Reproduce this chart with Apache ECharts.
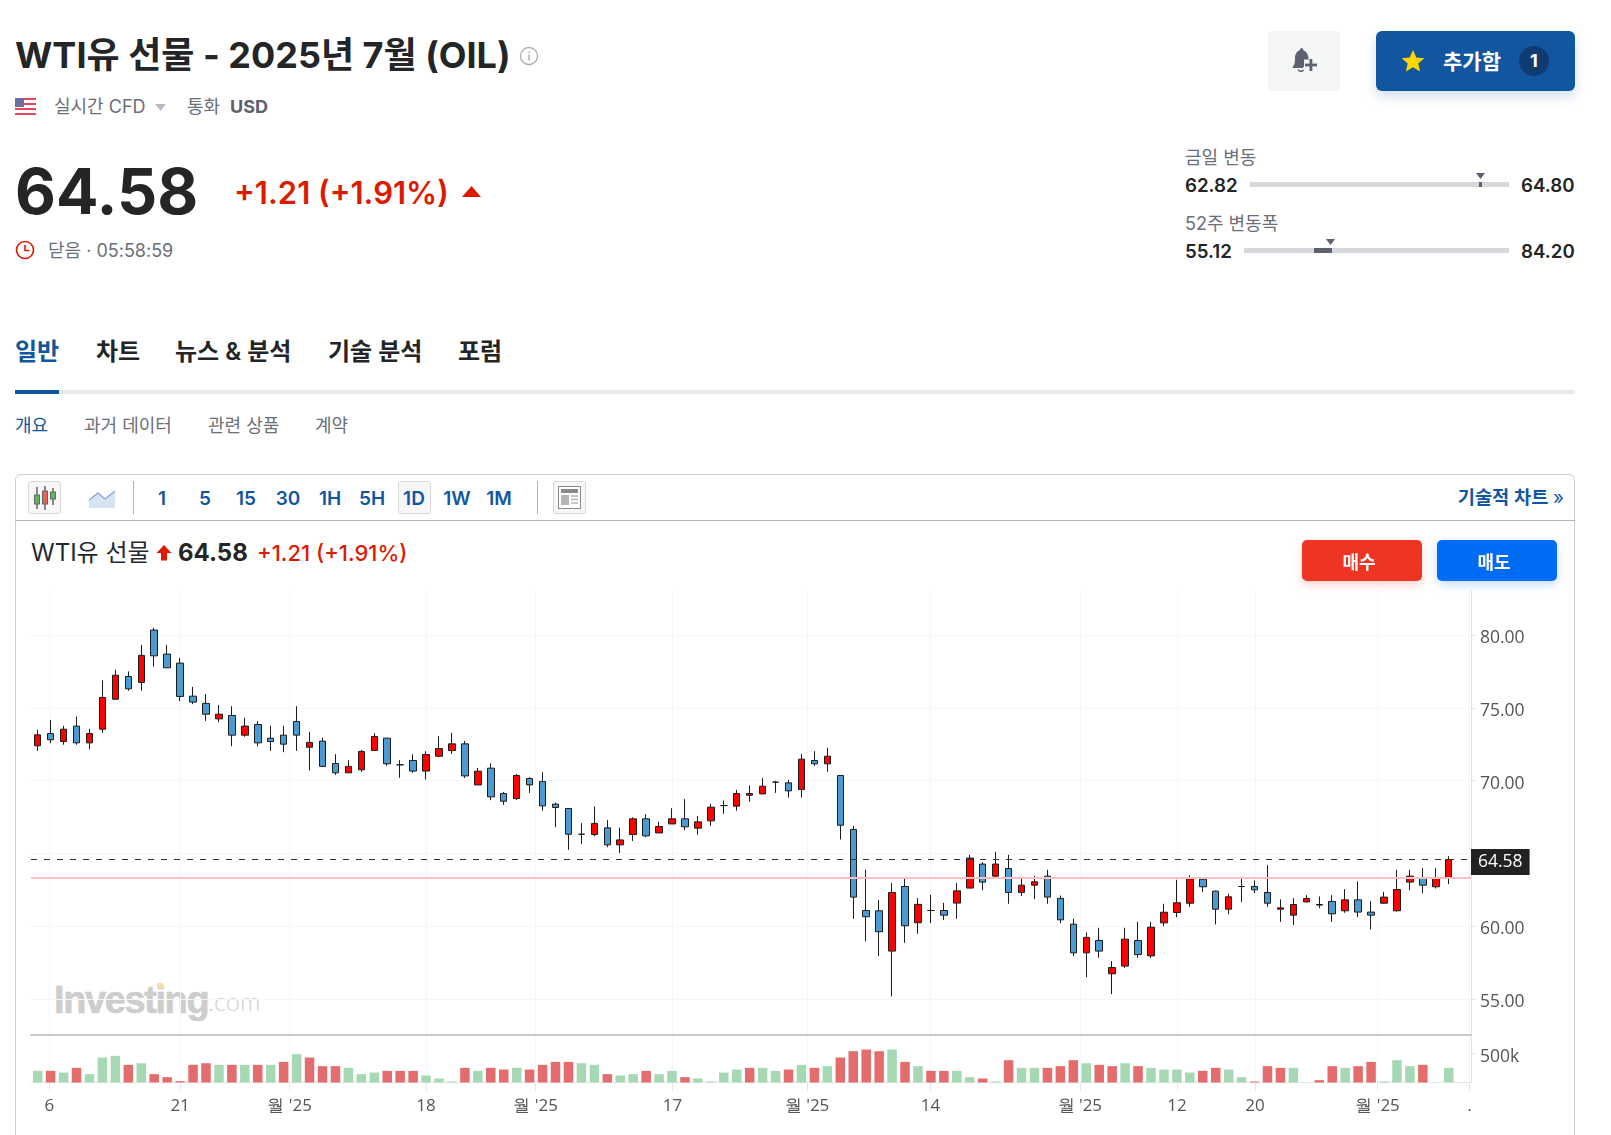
<!DOCTYPE html>
<html lang="ko">
<head>
<meta charset="utf-8">
<title>WTI유 선물</title>
<script src="https://cdn.jsdelivr.net/npm/echarts@6/dist/echarts.min.js"></script>
<style>
html,body{margin:0;padding:0;background:#fff;}
body{width:1611px;height:1135px;overflow:hidden;position:relative;font-family:Inter,"Noto Sans CJK KR",sans-serif;color:#232526;}
.t{position:absolute;white-space:nowrap;line-height:1;transform:translateY(-50%);}
.b{position:absolute;box-sizing:border-box;}
svg{position:absolute;overflow:visible;}
.grey{color:#5b616e;}
.blue{color:#1256a0;}
.red{color:#dd1a00;}
#main{position:absolute;left:0;top:0;width:1611px;height:1135px;}
.tf{font-size:19px;font-weight:600;color:#1256a0;transform:translate(-50%,-50%);}
</style>
</head>
<body>
<!-- 顶部 -->
<div class="t" style="left:15px;top:55px;font-size:36px;font-weight:700;">WTI유 선물 - 2025년 7월 (OIL)</div>
<svg style="left:519px;top:46px" width="20" height="20"><circle cx="10" cy="10" r="8.5" fill="none" stroke="#a9adb3" stroke-width="1.3"/><rect x="9.3" y="8.5" width="1.5" height="6" fill="#a9adb3"/><rect x="9.3" y="5.5" width="1.5" height="1.6" fill="#a9adb3"/></svg>
<svg style="left:15px;top:98px" width="21" height="17"><rect width="21" height="17" fill="#fff"/><rect y="0" width="21" height="2" fill="#e4485c"/><rect y="5" width="21" height="2" fill="#e4485c"/><rect y="10" width="21" height="2" fill="#e4485c"/><rect y="15" width="21" height="2" fill="#e4485c"/><rect width="9" height="9" fill="#6a6f9e"/></svg>
<div class="t grey" style="left:54px;top:107px;font-size:18px;color:#6a6f78;">실시간 CFD</div>
<svg style="left:155px;top:104px" width="12" height="8"><path d="M0 0H11L5.5 7Z" fill="#b5bcc4"/></svg>
<div class="t grey" style="left:187px;top:107px;font-size:18px;color:#6a6f78;">통화</div>
<div class="t grey" style="left:230px;top:107px;font-size:18px;font-weight:700;">USD</div>

<div class="b" style="left:1268px;top:31px;width:72px;height:60px;background:#f4f5f5;border-radius:5px;"></div>
<svg style="left:1292px;top:48px" width="26" height="26" viewBox="0 0 26 26"><path d="M9.5 0c1 0 2 1 2 2.5c3 1 5 4 5 8v4l-6 5.5H1c-1 0 0-2 1-3c1-2 1-5 1-7c0-4 2-7 5-8c0-1 .5-2 1.5-2z" fill="#5b616e"/><path d="M6 21.5c1 2 4 2.5 5.5 .5" fill="none" stroke="#5b616e" stroke-width="1.5"/><rect x="12" y="11.5" width="14" height="11" fill="#f4f5f5"/><rect x="17.5" y="11" width="2.8" height="12" fill="#5b616e"/><rect x="13" y="15.6" width="12" height="2.8" fill="#5b616e"/></svg>
<div class="b" style="left:1376px;top:31px;width:199px;height:60px;background:#1256a0;border-radius:6px;box-shadow:0 6px 12px rgba(18,86,160,.18);"></div>
<svg style="left:1401px;top:50px" width="24" height="22" viewBox="0 0 24 22"><path d="M12 0l3.3 7.4 8 .8-6 5.3 1.8 7.9L12 17.3 4.9 21.4l1.8-7.9-6-5.3 8-.8z" fill="#ffd600"/></svg>
<div class="t" style="left:1443px;top:61px;font-size:21px;font-weight:700;color:#fff;">추가함</div>
<div class="b" style="left:1519px;top:46px;width:30px;height:30px;background:#0f3a72;border-radius:50%;"></div>
<div class="t" style="left:1534px;top:61px;font-size:18px;font-weight:700;color:#fff;transform:translate(-50%,-50%);">1</div>

<div class="t" style="left:15px;top:191px;font-size:63px;font-weight:700;">64.58</div>
<div class="t red" style="left:234px;top:192px;font-size:31px;font-weight:600;">+1.21 (+1.91%)</div>
<svg style="left:462px;top:186px" width="20" height="12"><path d="M0 11L9.5 0 19 11Z" fill="#dd1a00"/></svg>
<svg style="left:15px;top:240px" width="20" height="20"><circle cx="10" cy="10" r="8.5" fill="none" stroke="#dd1a00" stroke-width="1.6"/><path d="M10 5v5.5h4.5" fill="none" stroke="#dd1a00" stroke-width="1.6"/></svg>
<div class="t grey" style="left:48px;top:251px;font-size:18px;color:#6a6f78;">닫음 · 05:58:59</div>

<div class="t grey" style="left:1185px;top:158px;font-size:18px;color:#6a6f78;">금일 변동</div>
<div class="t" style="left:1185px;top:186px;font-size:18.7px;font-weight:600;">62.82</div>
<div class="b" style="left:1250px;top:182px;width:259px;height:5px;background:#d6d8dc;"></div>
<div class="b" style="left:1479px;top:182px;width:3px;height:5px;background:#5b616e;"></div>
<svg style="left:1476px;top:173px" width="10" height="7"><path d="M0 0H9L4.5 6Z" fill="#5b616e"/></svg>
<div class="t" style="left:1521px;top:186px;font-size:18.7px;font-weight:600;">64.80</div>
<div class="t grey" style="left:1185px;top:224px;font-size:18px;color:#6a6f78;">52주 변동폭</div>
<div class="t" style="left:1185px;top:252px;font-size:18.7px;font-weight:600;">55.12</div>
<div class="b" style="left:1244px;top:248px;width:265px;height:5px;background:#d6d8dc;"></div>
<div class="b" style="left:1314px;top:248px;width:18px;height:5px;background:#5b616e;"></div>
<svg style="left:1326px;top:239px" width="10" height="7"><path d="M0 0H9L4.5 6Z" fill="#5b616e"/></svg>
<div class="t" style="left:1521px;top:252px;font-size:18.7px;font-weight:600;">84.20</div>

<!-- 标签页 -->
<div class="t blue" style="left:15px;top:352px;font-size:24px;font-weight:600;">일반</div>
<div class="t" style="left:96px;top:352px;font-size:24px;font-weight:600;">차트</div>
<div class="t" style="left:175px;top:352px;font-size:24px;font-weight:600;">뉴스 &amp; 분석</div>
<div class="t" style="left:328px;top:352px;font-size:24px;font-weight:600;">기술 분석</div>
<div class="t" style="left:458px;top:352px;font-size:24px;font-weight:600;">포럼</div>
<div class="b" style="left:15px;top:390px;width:1560px;height:4px;background:#e6e9eb;"></div>
<div class="b" style="left:15px;top:390px;width:44px;height:4px;background:#1256a0;"></div>
<div class="t blue" style="left:15px;top:426px;font-size:18px;">개요</div>
<div class="t grey" style="left:84px;top:426px;font-size:18px;color:#6a6f78;">과거 데이터</div>
<div class="t grey" style="left:208px;top:426px;font-size:18px;color:#6a6f78;">관련 상품</div>
<div class="t grey" style="left:315px;top:426px;font-size:18px;color:#6a6f78;">계약</div>

<!-- 图表框 -->
<div class="b" style="left:15px;top:474px;width:1560px;height:700px;border:1px solid #cfd1d4;border-radius:6px;"></div>
<div class="b" style="left:15px;top:520px;width:1560px;height:1px;background:#b5b5b5;"></div>
<div class="b" style="left:28px;top:481px;width:33px;height:33px;background:#f7f7f7;border:1px solid #d8d8d8;border-radius:3px;"></div>
<svg style="left:32px;top:486px" width="26" height="24"><path d="M5 1V23M13 0V24M21 2V19" stroke="#666" stroke-width="1.5"/><rect x="2.5" y="9" width="5" height="9" fill="#5cb85c" stroke="#666"/><rect x="10.5" y="5" width="5" height="13" fill="#e9605c" stroke="#666"/><rect x="18.5" y="6" width="5" height="7" fill="#5cb85c" stroke="#666"/></svg>
<svg style="left:89px;top:490px" width="26" height="18"><path d="M0 10L9 3 16 9 26 1V18H0Z" fill="#d7e3f1"/><path d="M0 10L9 3 16 9 26 1" fill="none" stroke="#7ea3cf" stroke-width="1.2"/></svg>
<div class="b" style="left:133px;top:481px;width:1px;height:33px;background:#b5b5b5;"></div>
<div class="t tf" style="left:162px;top:498px;">1</div>
<div class="t tf" style="left:205px;top:498px;">5</div>
<div class="t tf" style="left:246px;top:498px;">15</div>
<div class="t tf" style="left:288px;top:498px;">30</div>
<div class="t tf" style="left:330px;top:498px;">1H</div>
<div class="t tf" style="left:372px;top:498px;">5H</div>
<div class="b" style="left:398px;top:481px;width:33px;height:33px;background:#f7f7f7;border:1px solid #d8d8d8;border-radius:3px;"></div>
<div class="t tf" style="left:414px;top:498px;">1D</div>
<div class="t tf" style="left:457px;top:498px;">1W</div>
<div class="t tf" style="left:499px;top:498px;">1M</div>
<div class="b" style="left:537px;top:481px;width:1px;height:33px;background:#b5b5b5;"></div>
<div class="b" style="left:553px;top:481px;width:33px;height:33px;background:#f7f7f7;border:1px solid #d8d8d8;border-radius:3px;"></div>
<svg style="left:558px;top:486px" width="23" height="23"><rect x="0.5" y="0.5" width="22" height="22" fill="#fff" stroke="#8a8a8a"/><rect x="3" y="3" width="17" height="4" fill="#8a8a8a"/><rect x="3" y="9" width="8" height="10" fill="#b5b5b5"/><path d="M13 10H20M13 13.5H20M13 17H20" stroke="#b5b5b5" stroke-width="1.5"/></svg>
<div class="t blue" style="right:47px;top:498px;font-size:18.7px;font-weight:600;">기술적 차트 <span style="font-weight:400;">»</span></div>

<div class="t" style="left:31px;top:553px;font-size:24px;color:#1f2933;">WTI유 선물</div>
<svg style="left:156px;top:545px" width="16" height="16"><path d="M8 0L15.5 8H11V15.5H5V8H.5Z" fill="#dd1a00"/></svg>
<div class="t" style="left:178px;top:553px;font-size:24px;font-weight:700;">64.58</div>
<div class="t red" style="left:257px;top:553px;font-size:22px;font-weight:500;">+1.21 (+1.91%)</div>
<div class="b" style="left:1302px;top:540px;width:120px;height:41px;background:#ee3524;border-radius:5px;box-shadow:0 4px 10px rgba(238,53,36,.22);z-index:3;"></div>
<div class="t" style="left:1359px;top:563px;font-size:18px;font-weight:700;color:#fff;transform:translate(-50%,-50%);z-index:3;">매수</div>
<div class="b" style="left:1437px;top:540px;width:120px;height:41px;background:#006bf5;border-radius:5px;box-shadow:0 4px 10px rgba(0,107,245,.22);z-index:3;"></div>
<div class="t" style="left:1494px;top:563px;font-size:18px;font-weight:700;color:#fff;transform:translate(-50%,-50%);z-index:3;">매도</div>

<!-- 水印 -->
<div class="t" style="left:54px;top:1000px;font-family:'Liberation Sans',sans-serif;font-size:38px;font-weight:700;letter-spacing:-1.4px;color:#cdcdcd;-webkit-text-stroke:0.6px #cdcdcd;">Investing</div>
<div class="b" style="left:157px;top:983px;width:6px;height:5px;background:#fbdca8;"></div>
<div class="t" style="left:208px;top:1002px;font-family:Lato,sans-serif;font-size:25.5px;font-weight:300;color:#cfcfcf;">.com</div>

<div id="main"></div>
<script>
// 价格（蜡烛图）
var opens = [72.40,73.24,72.69,73.75,72.60,73.54,75.60,77.16,76.75,80.35,78.70,78.08,75.81,75.31,74.25,74.48,73.13,73.86,72.92,73.13,
	74.07,72.30,72.72,71.18,70.54,70.75,72.08,72.92,71.09,71.39,70.66,71.68,72.07,72.53,69.71,70.86,69.12,68.77,70.15,69.94,
	68.39,68.09,66.32,66.30,66.76,65.59,66.30,67.38,66.41,67.03,67.38,66.74,67.24,68.29,68.25,69.00,69.09,69.90,69.85,69.39,
	71.39,71.16,70.36,66.65,61.08,61.06,58.29,62.73,60.24,61.08,61.08,61.59,62.62,64.27,63.44,63.97,62.32,62.82,63.44,61.91,
	60.14,58.17,59.02,56.73,57.26,59.02,57.96,60.23,60.94,61.58,63.23,62.41,61.17,62.73,62.73,62.32,61.17,60.76,61.67,61.49,
	61.70,61.06,61.81,60.97,61.58,61.06,63.03,63.35,62.71,63.30];
var closes = [73.15,72.81,73.54,72.60,73.24,75.72,77.25,76.31,78.61,78.58,77.76,75.79,75.40,74.57,74.57,73.13,73.75,72.60,72.69,72.51,
	73.13,72.63,70.98,70.54,70.98,72.01,73.04,71.16,71.09,70.66,71.80,72.21,72.53,70.33,70.65,68.89,68.59,70.36,69.71,68.27,
	68.16,66.32,66.32,67.06,65.59,65.93,67.38,66.21,66.85,67.38,66.83,67.17,68.18,68.29,69.12,69.12,69.62,69.90,69.30,71.48,
	71.16,71.68,66.94,62.00,60.65,59.62,62.32,60.03,61.50,61.08,60.76,62.43,64.68,63.03,64.27,62.32,62.82,63.05,62.00,60.44,
	58.17,59.23,58.29,57.16,59.11,58.05,59.93,60.96,61.61,63.26,62.71,61.17,62.02,62.73,62.50,61.58,61.26,61.49,61.90,61.45,
	60.85,61.81,60.97,60.76,62.00,62.52,63.44,62.82,63.35,64.58];
var lows = [72.05,72.58,72.47,72.47,72.17,73.29,75.56,76.18,76.18,77.83,77.76,75.47,75.26,74.11,74.02,72.37,73.02,72.37,72.05,71.96,
	72.05,70.70,70.93,70.40,70.54,70.61,72.08,71.02,70.20,70.54,70.08,71.62,71.84,70.19,69.71,68.66,68.34,68.68,69.16,67.93,
	66.80,65.25,65.66,66.19,65.43,65.04,65.86,66.12,66.41,67.03,66.60,66.28,66.90,67.72,67.93,68.55,69.09,69.16,68.84,68.84,
	71.02,70.61,65.96,60.51,58.97,57.94,55.17,58.86,59.48,60.21,60.42,60.51,62.62,62.48,63.37,61.54,62.07,61.86,61.54,60.21,
	57.94,56.50,57.83,55.33,57.14,57.83,57.83,60.00,60.62,61.33,62.36,60.12,60.83,61.65,62.27,61.33,60.30,60.09,61.67,61.24,
	60.30,60.92,60.62,59.77,61.54,61.01,62.48,62.27,62.59,62.89];
var highs = [73.50,74.18,73.77,74.41,73.56,76.89,77.62,77.51,79.34,80.51,79.34,78.44,76.45,75.95,75.21,75.12,74.32,74.09,73.77,73.77,
	75.12,73.36,72.95,71.82,71.41,72.12,73.27,72.95,71.41,71.82,72.03,73.06,73.29,72.74,70.88,71.20,69.23,70.45,70.24,70.58,
	68.50,68.11,67.08,68.22,67.29,66.78,67.49,67.70,67.17,68.11,68.73,67.58,68.41,68.64,69.37,69.67,70.19,69.99,70.06,71.84,
	72.03,72.26,70.38,66.88,63.88,61.81,62.96,63.37,61.93,62.16,61.61,62.96,64.91,64.40,65.11,64.91,63.37,63.46,63.88,62.11,
	60.51,59.57,59.89,57.60,59.89,60.30,60.30,61.54,63.19,63.49,63.26,62.45,62.23,63.37,63.14,64.20,61.84,61.93,62.13,62.04,
	62.13,62.55,63.07,61.72,62.36,63.87,63.87,63.99,63.99,64.81];
// 成交量（单位 k）
var volumes = [201,201,172,253,144,431,460,305,333,144,92,23,305,333,305,305,305,305,305,356,
	489,431,282,282,253,144,172,201,201,201,121,69,17,253,201,253,224,253,224,305,
	356,356,333,305,144,121,144,201,144,201,92,69,17,172,224,253,253,201,224,305,
	253,282,431,540,569,540,569,356,282,201,201,201,92,69,17,385,253,253,253,282,
	385,333,305,282,333,282,253,224,224,172,201,253,224,92,17,282,253,253,0,40,
	282,253,282,356,17,385,282,305,0,253];
// 成交量颜色 1涨 0跌
var volumeUp = [1,0,1,0,1,1,1,0,1,0,0,0,0,0,1,0,1,0,1,0,
	1,0,0,0,1,1,1,0,0,0,1,1,1,0,1,0,0,1,0,0,
	0,0,1,1,0,1,1,0,1,1,0,1,1,1,1,0,1,1,0,1,
	0,1,0,0,0,0,1,0,1,0,0,1,1,0,1,0,1,1,0,0,
	0,1,0,0,1,0,1,1,1,1,0,0,1,1,0,0,0,1,1,0,
	0,1,0,0,1,1,1,0,1,1];
var priceTicks = [55,60,65,70,75,80];
var priceLabelTicks = [55,60,70,75,80]; // 65 被价格标签挡住
var volumeTicks = [500];
var dateTicks = [0.9,11,19.46,30,38.47,49.04,59.43,68.97,80.5,88,94.04,103.5,110.6];
var dateLabels = ['6','21',"월 '25",'18',"월 '25",'17',"월 '25",'14',"월 '25",'12','20',"월 '25",'.'];
var lastPrice = 64.58;
var prevClose = 63.35;

var candleData = [];
for (var i = 0; i < opens.length; i++) {
	candleData.push([i, opens[i], closes[i], lows[i], highs[i]]);
}
var volumeData = [];
for (var j = 0; j < volumes.length; j++) {
	volumeData.push([j, volumes[j]]);
}

var axisFont = '"Open Sans",sans-serif';
var myChart = echarts.init(document.getElementById('main'), null, {renderer: 'canvas'});
myChart.setOption({
	animation: false,
	grid: [
		{left: 31, width: 1440, top: 590.5, height: 444.7},
		{left: 31, width: 1440, top: 1035, height: 47.5}
	],
	xAxis: [
		{
			type: 'value', gridIndex: 0, min: -0.5176, max: 110.72,
			axisLine: {onZero: false, lineStyle: {color: '#c9c9c9', width: 2}},
			axisTick: {show: false, customValues: dateTicks},
			axisLabel: {show: false},
			splitLine: {show: true, lineStyle: {color: '#f6f6f8', width: 1}}
		},
		{
			type: 'value', gridIndex: 1, min: -0.5176, max: 110.72,
			axisLine: {onZero: false, lineStyle: {color: '#e3e5ee', width: 1}},
			axisTick: {show: true, length: 8, customValues: dateTicks, lineStyle: {color: '#e3e5ee'}},
			axisLabel: {
				show: true, customValues: dateTicks, margin: 15, color: '#555',
				fontFamily: axisFont, fontSize: 17,
				formatter: function(v) {
					return dateLabels[dateTicks.indexOf(v)];
				}
			},
			splitLine: {show: true, lineStyle: {color: '#f6f6f8', width: 1}}
		}
	],
	yAxis: [
		{
			type: 'value', gridIndex: 0, position: 'right', min: 52.51, max: 83.07, scale: true,
			axisLine: {show: true, onZero: false, lineStyle: {color: '#e3e5ee'}},
			axisTick: {show: true, length: 5, customValues: priceTicks, lineStyle: {color: '#e3e5ee'}},
			axisLabel: {
				customValues: priceLabelTicks, margin: 9,
				rich: {v: {color: '#555', fontFamily: axisFont, fontSize: 17.5, padding: [6, 0, 0, 0]}},
				formatter: function(v) {
					return '{v|' + v.toFixed(2) + '}';
				}
			},
			splitLine: {show: true, lineStyle: {color: '#f6f6f8', width: 1}}
		},
		{
			type: 'value', gridIndex: 1, position: 'right', min: 0, max: 820,
			axisLine: {show: true, onZero: false, lineStyle: {color: '#e3e5ee'}},
			axisTick: {show: true, length: 5, customValues: volumeTicks, lineStyle: {color: '#e3e5ee'}},
			axisLabel: {
				customValues: volumeTicks, margin: 9,
				rich: {v: {color: '#555', fontFamily: axisFont, fontSize: 17.5, padding: [7, 0, 0, 0]}},
				formatter: function(v) {
					return '{v|' + v + 'k}';
				}
			},
			splitLine: {show: false}
		}
	],
	series: [
		{
			type: 'candlestick', xAxisIndex: 0, yAxisIndex: 0,
			data: candleData, barWidth: 7,
			itemStyle: {color: '#ff0000', color0: '#4a9ad4', borderColor: '#1c1c1c', borderColor0: '#1c1c1c', borderWidth: 1},
			markLine: {
				silent: true, symbol: 'none', animation: false,
				data: [
					{
						yAxis: lastPrice,
						lineStyle: {color: '#333', width: 1, type: [6, 7]},
						label: {
							show: true, position: 'end', distance: 0, formatter: lastPrice.toFixed(2), offset: [0, 2.5],
							color: '#fff', backgroundColor: '#222', padding: [4, 7, 4, 7],
							fontFamily: axisFont, fontSize: 17.5
						}
					},
					{
						yAxis: prevClose,
						lineStyle: {color: '#ffc0c4', width: 2, type: 'solid'},
						label: {show: false}
					}
				]
			}
		},
		{
			type: 'bar', xAxisIndex: 1, yAxisIndex: 1,
			data: volumeData, barWidth: 9.5,
			itemStyle: {
				color: function(p) {
					return volumeUp[p.dataIndex] ? '#a6d8b4' : '#e46c6c';
				}
			}
		}
	]
});
</script>
</body>
</html>
